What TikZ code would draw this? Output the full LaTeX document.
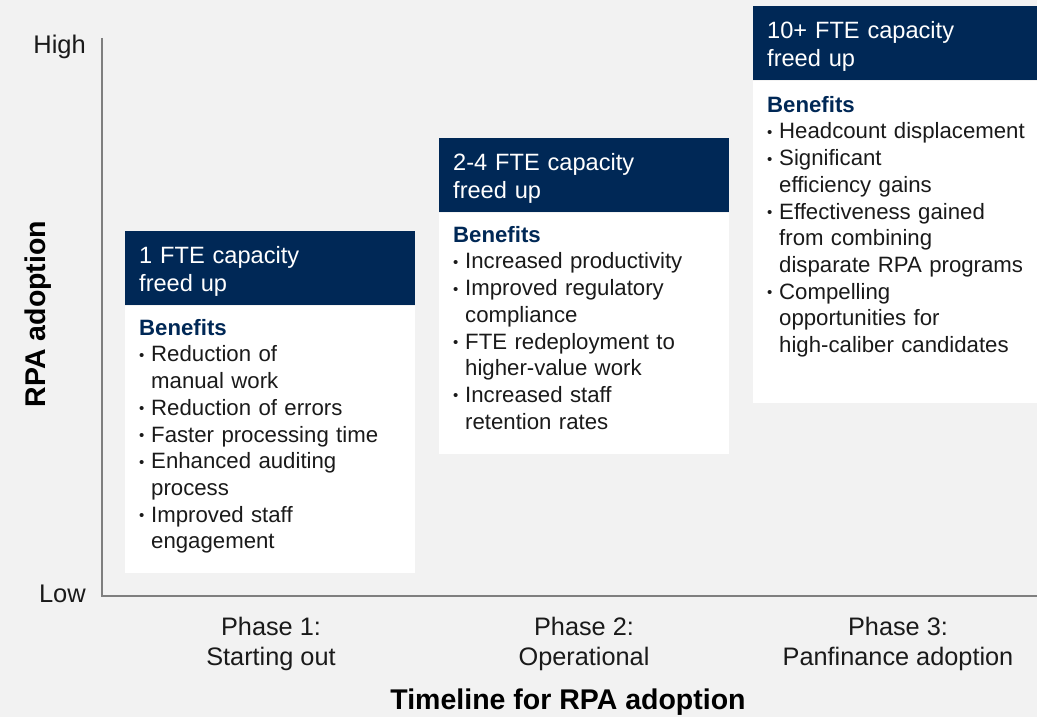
\documentclass[tikz,border=0pt]{standalone}
\usepackage{fontspec}
\setmainfont{Liberation Sans}
\usetikzlibrary{calc}
\definecolor{navy}{HTML}{002856}
\definecolor{bg}{HTML}{F2F2F2}
\definecolor{axisgray}{HTML}{7F7F7F}
\definecolor{txt}{HTML}{1A1A1A}
\newcommand\bulletitem[1]{\par\hangindent=12pt\hangafter=1\noindent\makebox[12pt][l]{\raisebox{1.5pt}{\fontsize{15}{15}\selectfont •}}#1\par}
\newcommand\benefitshead{\noindent{\bfseries\color{navy}Benefits}}
\newcommand\hstrut{\rule{0pt}{23pt}}
\tikzset{
  header/.style={fill=navy, text=white, anchor=north west, minimum height=74pt,
    inner xsep=14pt, inner ysep=0pt, text width=#1, align=left,
    font=\fontsize{23.6}{28}\selectfont},
  bodybox/.style={fill=white, anchor=north west, inner sep=0pt, minimum width=#1},
  bodytext/.style={anchor=north west, inner sep=0pt, text width=300pt, align=left,
    font=\fontsize{22.2}{26.7}\selectfont, text=txt},
  axislabel/.style={anchor=east, inner sep=0pt, font=\fontsize{25.5}{28}\selectfont, text=txt},
  phase/.style={align=center, inner sep=0pt, font=\fontsize{25.3}{30}\selectfont, text=txt},
  title/.style={inner sep=0pt, font=\bfseries\fontsize{28.5}{30}\selectfont, text=black},
  axisline/.style={draw=axisgray, line width=2pt}
}
\begin{document}
\begin{tikzpicture}[x=1pt,y=-1pt]
\useasboundingbox (0,0) rectangle (1037,717);
\fill[bg] (0,0) rectangle (1037,717);
% axes
\coordinate (origin) at (102,596);
\coordinate (ytop) at (102,38);
\coordinate (xend) at (1037,596);
\draw[axisline] (ytop) -- (origin) -- (xend);
\node[axislabel] (high) at (86,47) {High};
\node[axislabel] (low) at (86,594) {Low};
\node[title, rotate=90] (ylab) at (38,314) {RPA adoption};
\node[title] (xlab) at (568,702) {Timeline for RPA adoption};
% phase labels
\node[phase] (p1) at (271,644) {Phase 1:\\Starting out};
\node[phase] (p2) at (584,644) {Phase 2:\\Operational};
\node[phase] (p3) at (898,644) {Phase 3:\\Panfinance adoption};
% box 1
\node[header=262pt] (h1) at (125,231) {\hstrut 1 FTE capacity\\freed up};
\node[bodybox=290pt, minimum height=267pt] (b1) at (h1.south west) {};
\node[bodytext] (t1) at (139,319) {\benefitshead
\bulletitem{Reduction of\newline manual work}
\bulletitem{Reduction of errors}
\bulletitem{Faster processing time}
\bulletitem{Enhanced auditing\newline process}
\bulletitem{Improved staff\newline engagement}};
% box 2
\node[header=262pt] (h2) at (439,138) {\hstrut 2-4 FTE capacity\\freed up};
\node[bodybox=290pt, minimum height=241pt] (b2) at (h2.south west) {};
\node[bodytext] (t2) at (453,226) {\benefitshead
\bulletitem{Increased productivity}
\bulletitem{Improved regulatory\newline compliance}
\bulletitem{FTE redeployment to\newline higher-value work}
\bulletitem{Increased staff\newline retention rates}};
% box 3
\node[header=256pt] (h3) at (753,6) {\hstrut 10+ FTE capacity\\freed up};
\node[bodybox=284pt, minimum height=322pt] (b3) at (h3.south west) {};
\node[bodytext] (t3) at (767,96) {\benefitshead
\bulletitem{Headcount displacement}
\bulletitem{Significant\newline efficiency gains}
\bulletitem{Effectiveness gained\newline from combining\newline disparate RPA programs}
\bulletitem{Compelling\newline opportunities for\newline high-caliber candidates}};
\end{tikzpicture}
\end{document}
